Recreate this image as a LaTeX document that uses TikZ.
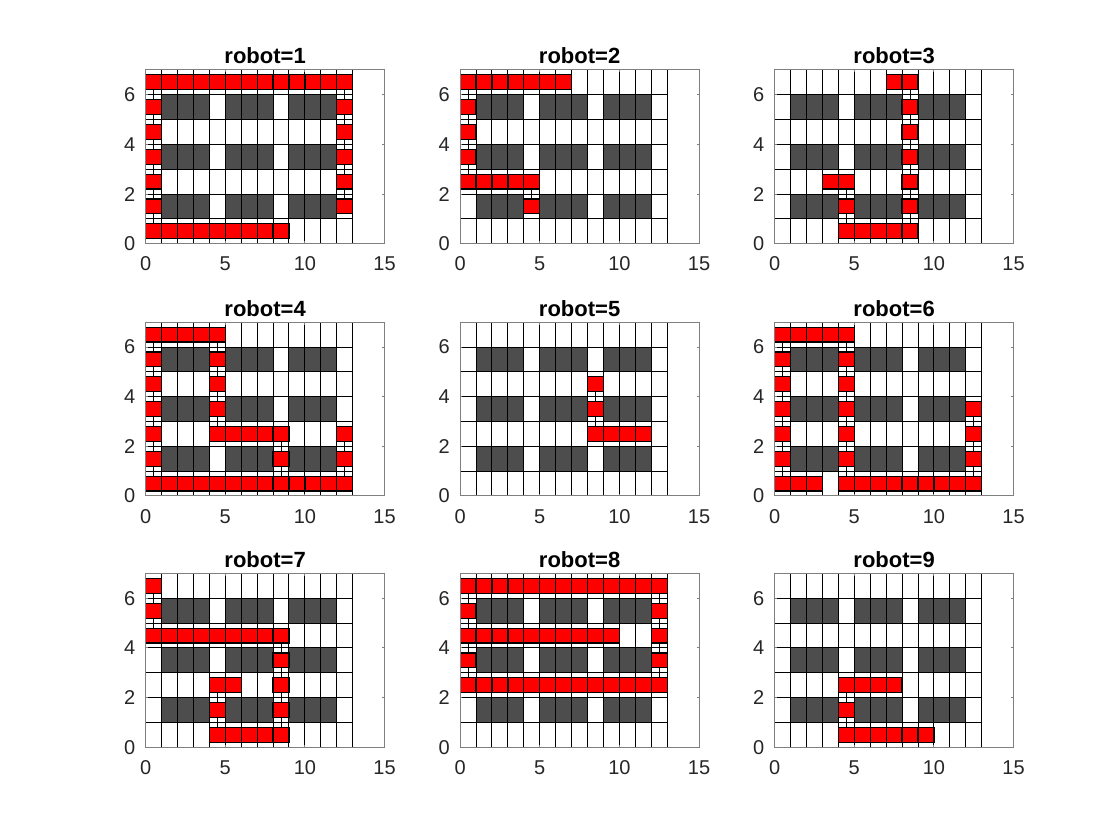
\documentclass[tikz,border=0pt]{standalone}
\usepackage{fontspec}
\setmainfont{Liberation Sans}
\usepackage{tikz}
\definecolor{ShelfGray}{HTML}{4D4D4D}
\definecolor{BoxGray}{HTML}{7F7F7F}
\definecolor{TickText}{HTML}{262626}
\definecolor{PathRed}{HTML}{FF0000}

\begin{document}
\begin{tikzpicture}[x=0.5pt, y=0.5pt,
  shelf/.style={fill=ShelfGray},
  cellgrid/.style={draw=black, line width=0.5pt},
  trail/.style={draw=black, line width=0.45pt},
  visit/.style={fill=PathRed},
  visitedge/.style={draw=black, line width=0.6pt},
  axisbox/.style={draw=BoxGray, line width=0.5pt},
  ticklabel/.style={inner sep=0pt, text=TickText, font=\fontsize{10}{12}\selectfont},
  plottitle/.style={inner sep=0pt, anchor=base, font=\fontsize{11}{13}\selectfont\bfseries}]
  \fill[white] (0,0) rectangle (1120,840);
  \useasboundingbox (0,0) rectangle (1120,840);
  \foreach \n/\X/\Y/\segs in {
    1/145.6/596.3/{8/0/0/0, 0/0/0/6, 0/6/12/6, 12/6/12/1},
    2/460.1/596.3/{6/6/0/6, 0/6/0/2, 0/2/4/2, 4/2/4/1},
    3/774.6/596.3/{7/6/8/6, 8/6/8/0, 8/0/4/0, 4/0/4/2, 4/2/3/2},
    4/145.6/344/{12/2/12/0, 12/0/0/0, 0/0/0/6, 0/6/4/6, 4/6/4/2, 4/2/8/2, 8/2/8/0},
    5/460.1/344/{8/4/8/2, 8/2/11/2},
    6/774.6/344/{12/3/12/0, 12/0/4/0, 4/0/4/6, 4/6/0/6, 0/6/0/0, 0/0/2/0},
    7/145.6/92.7/{0/6/0/4, 0/4/8/4, 8/4/8/0, 8/0/4/0, 4/0/4/2, 4/2/5/2},
    8/460.1/92.7/{9/4/0/4, 0/4/0/6, 0/6/12/6, 12/6/12/2, 12/2/0/2, 0/2/0/4},
    9/774.6/92.7/{7/2/4/2, 4/2/4/0, 4/0/9/0}} {
  \begin{scope}[shift={(\X,\Y)}, xscale=15.933, yscale=24.83]
    % shelves
    \foreach \bx in {1,5,9}
      \foreach \by in {1,3,5}
        \fill[shelf] (\bx,\by) rectangle ++(3,1);
    \foreach \gx in {0,...,13}
      \draw[cellgrid] (\gx,0) -- (\gx,7);
    \foreach \gy in {0,...,7}
      \draw[cellgrid] (0,\gy) -- (13,\gy);
    % robot route
    \foreach \a/\b/\c/\d in \segs
      \draw[trail] (\a+.5,\b+.5) -- (\c+.5,\d+.5);
    \foreach \a/\b/\c/\d in \segs
      \foreach \i in {\a,...,\c}
        \foreach \j in {\b,...,\d}
          \fill[visit] (\i,\j+.2) rectangle ++(1,.6);
    \foreach \a/\b/\c/\d in \segs
      \foreach \i in {\a,...,\c}
        \foreach \j in {\b,...,\d}
          \draw[visitedge] (\i,\j+.2) rectangle ++(1,.6);
    % axes
    \draw[axisbox] (0,0) rectangle (15,7);
    \foreach \t in {0,5,10,15} {
      \draw[axisbox] (\t,0) -- ++(0,.1) (\t,7) -- ++(0,-.1);
      \node[ticklabel, anchor=north] (xl\n-\t) at (\t,-.52) {\t};
    }
    \foreach \t in {0,2,4,6} {
      \draw[axisbox] (0,\t) -- ++(.15,0) (15,\t) -- ++(-.15,0);
      \node[ticklabel, anchor=east] (yl\n-\t) at (-.63,\t) {\t};
    }
    \node[plottitle] (title\n) at (7.5,7.24) {robot=\n};
  \end{scope}
  }
\end{tikzpicture}
\end{document}
